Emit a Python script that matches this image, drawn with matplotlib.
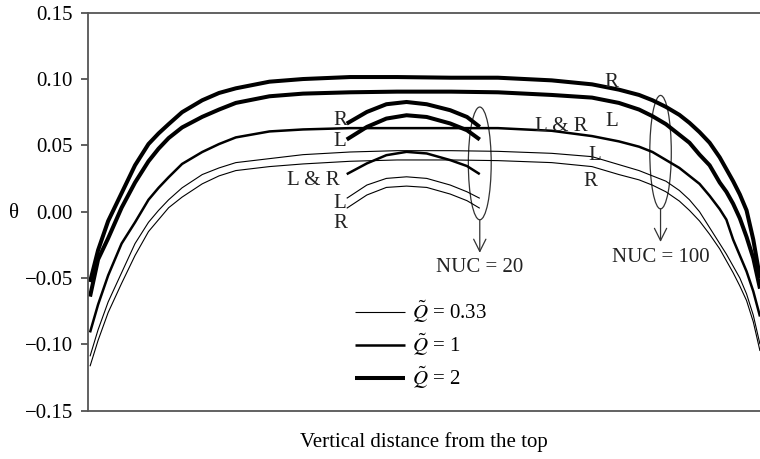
import matplotlib
matplotlib.use("Agg")
import matplotlib.pyplot as plt
from matplotlib.patches import Ellipse
from matplotlib.ticker import FuncFormatter

plt.rcParams['font.family'] = ['Liberation Serif', 'DejaVu Serif']
plt.rcParams['mathtext.fontset'] = 'stix'

# depth along the cavity, % of height (no ticks on this axis)
x_long = [0.3, 1.5, 3, 5, 7, 9, 10.5, 12, 14, 17, 19.5, 22, 27, 32, 39, 46, 54,
          61, 69, 75, 79, 82, 84, 86, 88, 89.5, 91, 92.5, 94, 95, 96, 97, 98,
          99, 100]

# NUC = 100
thick_R = [-0.053, -0.029, -0.007, 0.014, 0.035, 0.051, 0.059, 0.066, 0.075,
           0.084, 0.0895, 0.093, 0.098, 0.100, 0.1015, 0.1015, 0.101, 0.101,
           0.099, 0.096, 0.092, 0.088, 0.084, 0.079, 0.073, 0.067, 0.060, 0.052,
           0.041, 0.032, 0.023, 0.013, 0.001, -0.021, -0.050]
thick_L = [-0.064, -0.036, -0.020, 0.003, 0.022, 0.038, 0.0475, 0.0555, 0.0635,
           0.0715, 0.077, 0.082, 0.087, 0.089, 0.090, 0.0905, 0.0905, 0.090,
           0.088, 0.086, 0.082, 0.077, 0.072, 0.066, 0.058, 0.052, 0.043, 0.035,
           0.022, 0.015, 0.006, -0.005, -0.019, -0.035, -0.058]
med_LR = [-0.091, -0.070, -0.048, -0.024, -0.008, 0.009, 0.018, 0.026, 0.036,
          0.045, 0.051, 0.056, 0.0605, 0.062, 0.063, 0.063, 0.063, 0.063, 0.061,
          0.057, 0.053, 0.049, 0.045, 0.039, 0.033, 0.027, 0.021, 0.012, 0.002,
          -0.006, -0.021, -0.033, -0.045, -0.060, -0.079]
thin_L = [-0.109, -0.089, -0.068, -0.046, -0.024, -0.008, 0.001, 0.009, 0.018,
          0.028, 0.033, 0.037, 0.040, 0.043, 0.045, 0.046, 0.046, 0.0455, 0.044,
          0.0415, 0.0355, 0.031, 0.027, 0.023, 0.016, 0.009, 0.000, -0.012,
          -0.024, -0.032, -0.041, -0.050, -0.062, -0.078, -0.100]
thin_R = [-0.1165, -0.097, -0.076, -0.054, -0.033, -0.015, -0.006, 0.003, 0.011,
          0.021, 0.027, 0.031, 0.034, 0.036, 0.038, 0.039, 0.039, 0.0385, 0.037,
          0.034, 0.028, 0.024, 0.020, 0.015, 0.008, 0.001, -0.007, -0.017,
          -0.028, -0.037, -0.046, -0.056, -0.067, -0.083, -0.105]

# NUC = 20
x_short = [38.5, 41.5, 44.4, 47.4, 50.4, 53.9, 56.4, 58.3]
s_thick_R = [0.0664, 0.0752, 0.081, 0.0827, 0.081, 0.0765, 0.0714, 0.0639]
s_thick_L = [0.0544, 0.0639, 0.0702, 0.0727, 0.0714, 0.0665, 0.0614, 0.0544]
s_med_LR = [0.0283, 0.0364, 0.0426, 0.0451, 0.0439, 0.0389, 0.0344, 0.0283]
s_thin_L = [0.0101, 0.0201, 0.0251, 0.0263, 0.0251, 0.0201, 0.015, 0.0101]
s_thin_R = [0.0026, 0.0126, 0.0183, 0.0193, 0.0183, 0.0133, 0.0083, 0.0026]

yticks = [-0.15, -0.10, -0.05, 0.00, 0.05, 0.10, 0.15]
lw_thin, lw_med, lw_thick = 0.8, 1.8, 2.9
fs = 15

fig = plt.figure(figsize=(7.6, 4.59), dpi=100)
ax = fig.add_axes([88 / 760, 1 - 410.7 / 459, 672 / 760, 398 / 459])

kw = dict(color='black', solid_joinstyle='round', solid_capstyle='butt')
ax.plot(x_long, thin_L, lw=lw_thin, label=r'$\tilde{Q}$ = 0.33', **kw)
ax.plot(x_long, thin_R, lw=lw_thin, **kw)
ax.plot(x_long, med_LR, lw=lw_med, label=r'$\tilde{Q}$ = 1', **kw)
ax.plot(x_long, thick_L, lw=lw_thick, **kw)
ax.plot(x_long, thick_R, lw=lw_thick, label=r'$\tilde{Q}$ = 2', **kw)

ax.plot(x_short, s_thin_L, lw=lw_thin, **kw)
ax.plot(x_short, s_thin_R, lw=lw_thin, **kw)
ax.plot(x_short, s_med_LR, lw=lw_med, **kw)
ax.plot(x_short, s_thick_L, lw=lw_thick, **kw)
ax.plot(x_short, s_thick_R, lw=lw_thick, **kw)

# curve labels
for tx, ty, s in [(77.9, 0.0977, 'R'), (77.9, 0.0677, 'L'), (70.5, 0.0639, 'L & R'),
                  (75.4, 0.0426, 'L'), (74.7, 0.0226, 'R'),
                  (37.5, 0.0689, 'R'), (37.5, 0.0526, 'L'), (33.6, 0.0238, 'L & R'),
                  (37.5, 0.0065, 'L'), (37.6, -0.0092, 'R')]:
    ax.text(tx, ty, s, fontsize=fs, ha='center', va='center', color='#222222')

# NUC groups
for cx, cy, w, h, y0, y1, lab, ly in [(58.3, 0.0364, 3.4, 0.085, -0.0062, -0.031, 'NUC = 20', -0.0423),
                                      (85.2, 0.0449, 3.2, 0.0855, 0.0022, -0.0228, 'NUC = 100', -0.0348)]:
    ax.add_patch(Ellipse((cx, cy), w, h, fill=False, ec='#333333', lw=0.9))
    ax.annotate('', xy=(cx, y1), xytext=(cx, y0),
                arrowprops=dict(arrowstyle='->', color='#333333', lw=0.9,
                                mutation_scale=22, shrinkA=0, shrinkB=0))
    ax.text(cx, ly, lab, fontsize=fs, ha='center', va='center', color='#222222')

ax.set_xlim(0, 100)
ax.set_ylim(-0.15, 0.15)
ax.set_yticks(yticks)
ax.yaxis.set_major_formatter(FuncFormatter(lambda v, p: f'{v:.2f}'.replace('-', '\u2212')))
ax.set_xticks([])
ax.tick_params(axis='y', direction='out', length=5, width=1.2, pad=6,
               labelsize=fs, color='#444444')
ax.spines['right'].set_visible(False)
for s in ['left', 'top', 'bottom']:
    ax.spines[s].set_color('#555555')
    ax.spines[s].set_linewidth(1.3)

ax.set_ylabel('\u03b8', rotation=0, fontsize=fs, va='center', ha='center')
ax.yaxis.set_label_coords(-0.110, 0.495)
ax.set_xlabel('Vertical distance from the top', fontsize=fs, va='top')
ax.xaxis.set_label_coords(0.5, -0.055)

ax.legend(loc='center left', bbox_to_anchor=((355 - 88) / 672, (410.7 - 345) / 398),
          frameon=False, fontsize=fs, handlelength=2.4, handletextpad=0.35,
          labelspacing=0.33, borderpad=0, borderaxespad=0)

fig.savefig('out.png', dpi=100)
